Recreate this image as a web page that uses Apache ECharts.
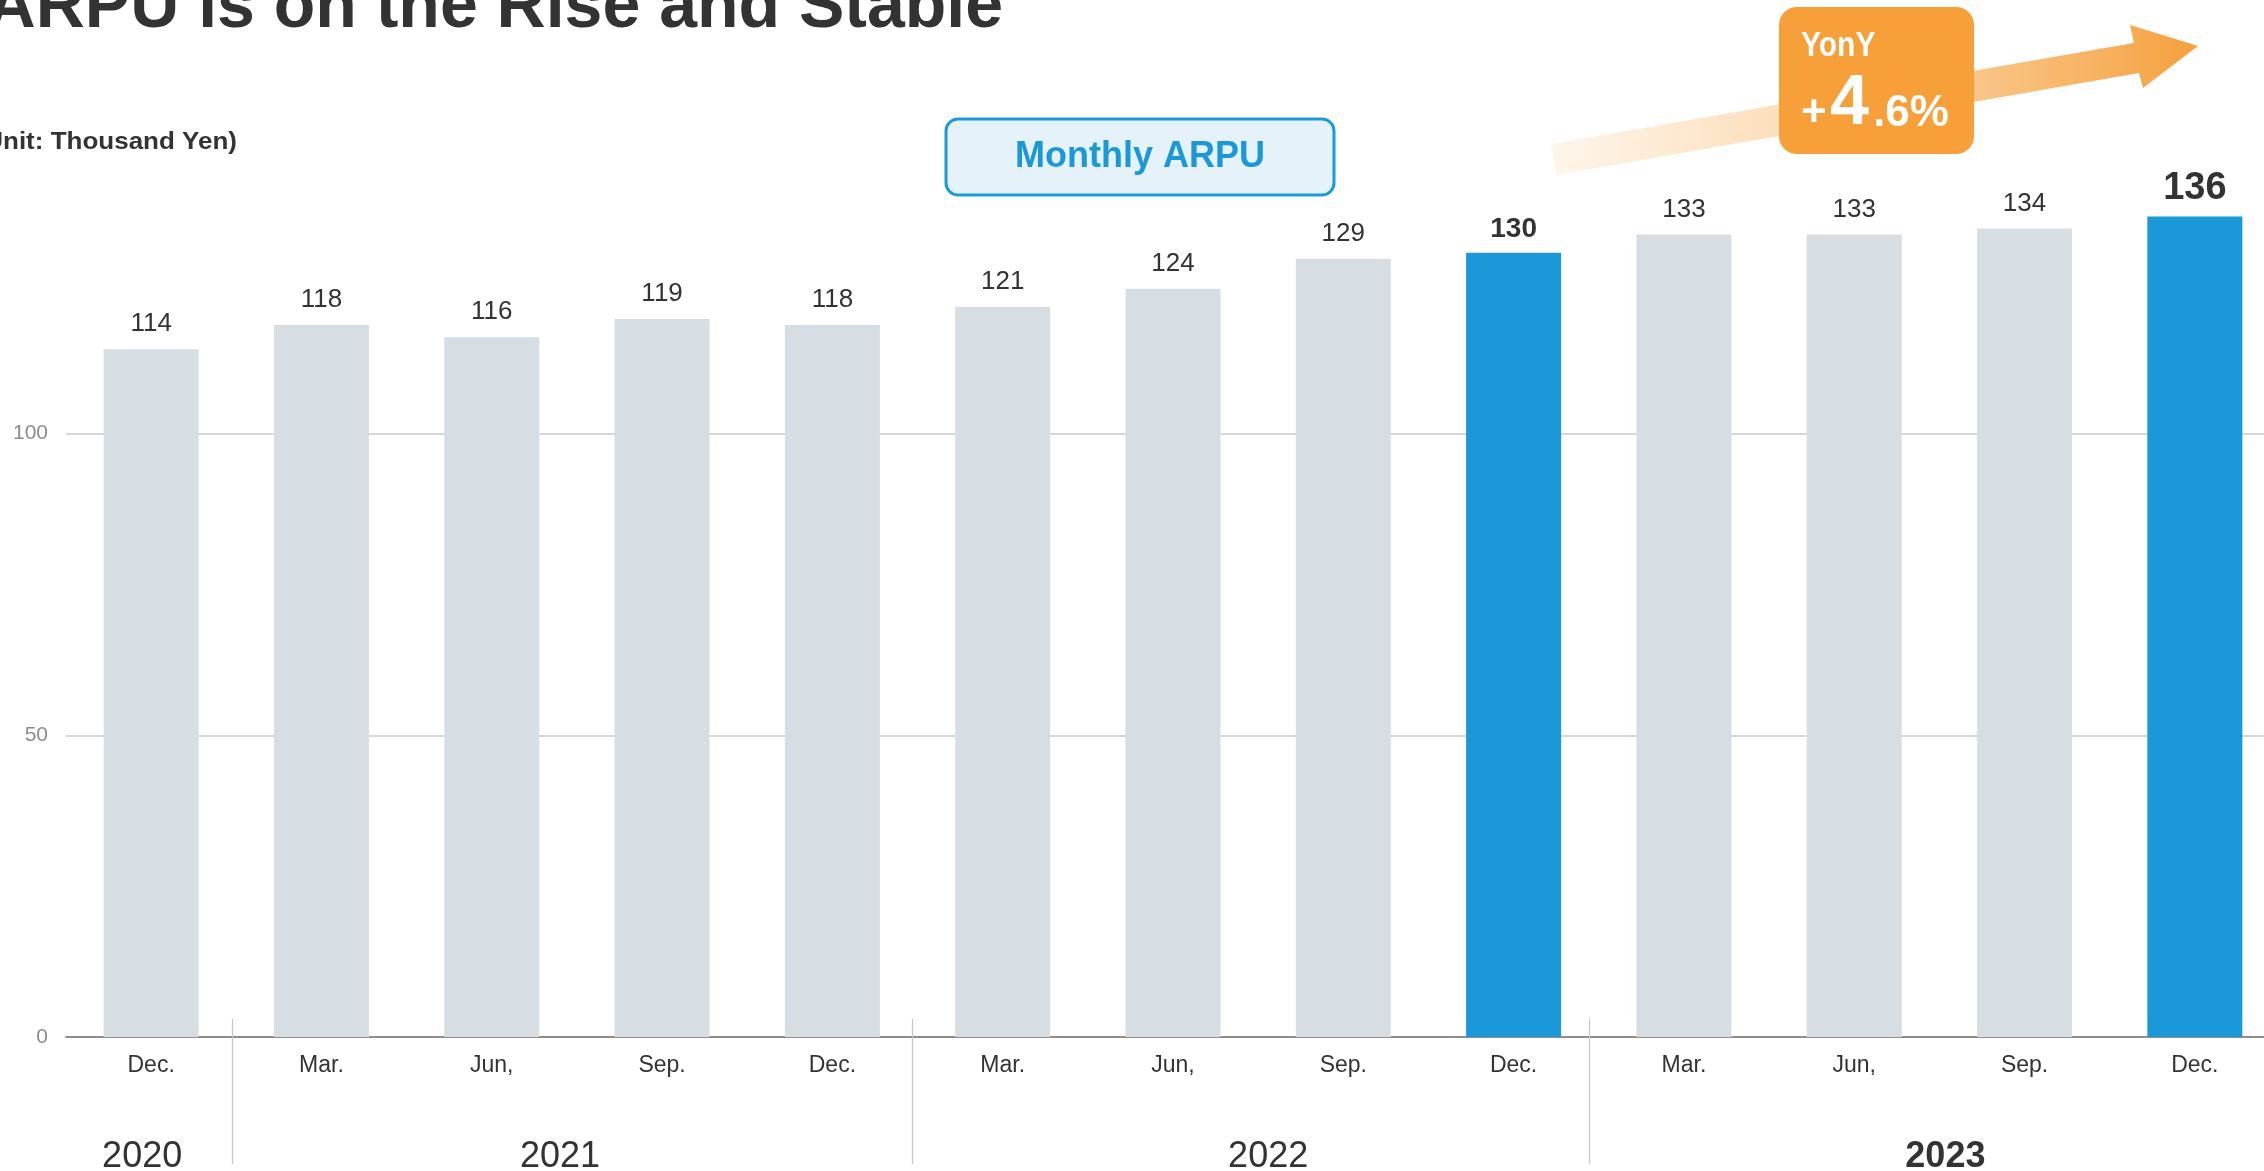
<!DOCTYPE html>
<html>
<head>
<meta charset="utf-8">
<script src="https://cdn.jsdelivr.net/npm/echarts@6/dist/echarts.min.js"></script>
<style>
html,body{margin:0;padding:0;background:#fff;}
#chart{width:2264px;height:1171px;}
</style>
</head>
<body>
<div id="chart"></div>
<script>
// ---- data ----
var months = ['Dec.','Mar.','Jun,','Sep.','Dec.','Mar.','Jun,','Sep.','Dec.','Mar.','Jun,','Sep.','Dec.'];
var arpu = [114,118,116,119,118,121,124,129,130,133,133,134,136];
var highlightIdx = [8, 12];
var years = ['2020','2021','2022','2023'];
var yearStart = [0, 1, 5, 9];
var yearEnd = [0, 4, 8, 12];
var yMin = 0, yMax = 150, yInterval = 50;
var titleText = 'ARPU is on the Rise and Stable';
var unitText = '(Unit: Thousand Yen)';
var legendText = 'Monthly ARPU';
var yoyLabel = 'YonY';
var yoyPlus = '+';
var yoyInt = '4';
var yoyFrac = '.6%';

// ---- layout tweaks (pixels) ----
var yearLabelShift = [-9, -17, 10, 6];
var sepShift = [-4, -6, -10];

var FONT = '"Liberation Sans", Arial, Helvetica, sans-serif';
var GRAY = '#d6dde3', BLUE = '#1a98d8';

var barData = arpu.map(function (v, i) {
  var hi = highlightIdx.indexOf(i) >= 0;
  var item = { value: v, itemStyle: { color: hi ? BLUE : GRAY } };
  if (hi) {
    item.label = { fontWeight: 'bold', fontSize: (i === 12 ? 38 : 28), color: '#333', distance: 9 };
  }
  return item;
});

var chart = echarts.init(document.getElementById('chart'), null, { renderer: 'canvas' });

var option = {
  backgroundColor: '#fff',
  animation: false,
  grid: { left: 66, top: 132, width: 2214, bottom: 134, containLabel: false, outerBoundsMode: 'none' },
  xAxis: {
    type: 'category',
    data: months,
    boundaryGap: true,
    axisLine: { show: true, lineStyle: { color: '#8e8e8e', width: 2 } },
    axisTick: { show: false },
    axisLabel: { color: '#333', fontSize: 23, fontFamily: FONT, margin: 17, interval: 0 },
    splitLine: { show: false }
  },
  yAxis: {
    type: 'value',
    min: yMin, max: yMax, interval: yInterval,
    axisLine: { show: false },
    axisTick: { show: false },
    axisLabel: {
      color: '#8c8c8c', fontSize: 21, fontFamily: FONT, margin: 18,
      formatter: function (v) { return v >= yMax ? '' : String(v); }
    },
    splitLine: { show: true, lineStyle: { color: ['#c9c9c9', '#c9c9c9', '#c9c9c9', 'rgba(0,0,0,0)'], width: 1.5 } }
  },
  series: [{
    type: 'bar',
    data: barData,
    barWidth: 95,
    label: {
      show: true, position: 'top', distance: 12,
      color: '#333', fontSize: 26, fontFamily: FONT
    }
  }]
};
chart.setOption(option);

function px(idx) { return chart.convertToPixel({ xAxisIndex: 0 }, idx); }
var zeroY = chart.convertToPixel({ yAxisIndex: 0 }, 0);

var graphics = [];
// title & unit
graphics.push({ type: 'text', x: 1003, y: 8, z: 10,
  style: { text: titleText, fill: '#333', font: 'bold 68px ' + FONT, textAlign: 'right', textVerticalAlign: 'middle' } });
graphics.push({ type: 'text', x: 237, y: 142, z: 10, scaleY: 0.92,
  style: { text: unitText, fill: '#333', font: 'bold 26px ' + FONT, textAlign: 'right', textVerticalAlign: 'middle' } });
// legend box
graphics.push({ type: 'rect', shape: { x: 946, y: 119, width: 388, height: 76, r: 12 }, z: 10,
  style: { fill: '#e6f2fa', stroke: '#1a9ad9', lineWidth: 3 } });
graphics.push({ type: 'text', x: 1140, y: 157, z: 11,
  style: { text: legendText, fill: '#1a98d8', font: 'bold 36px ' + FONT, textAlign: 'center', textVerticalAlign: 'middle' } });
// arrow
graphics.push({ type: 'polygon', z: 5,
  shape: { points: [[1551,144],[2134,43],[2130,25],[2198,46],[2143,88],[2139,73],[1556,175]] },
  style: { fill: new echarts.graphic.LinearGradient(0, 0, 1, 0, [
    { offset: 0, color: 'rgba(248,178,95,0.12)' },
    { offset: 0.45, color: 'rgba(248,178,95,0.5)' },
    { offset: 1, color: 'rgba(245,160,60,1)' }
  ]) } });
// YonY badge
graphics.push({ type: 'rect', shape: { x: 1779, y: 7, width: 195, height: 147, r: 18 }, z: 12,
  style: { fill: '#f7a03a' } });
graphics.push({ type: 'text', x: 1801, y: 46, z: 13, scaleY: 1.15,
  style: { text: yoyLabel, fill: '#fff', font: 'bold 30px ' + FONT, textAlign: 'left', textVerticalAlign: 'middle' } });
graphics.push({ type: 'text', x: 1801, y: 114, z: 13,
  style: { text: yoyPlus, fill: '#fff', font: 'bold 44px ' + FONT, textAlign: 'left', textVerticalAlign: 'middle' } });
graphics.push({ type: 'text', x: 1830, y: 105, z: 13,
  style: { text: yoyInt, fill: '#fff', font: 'bold 70px ' + FONT, textAlign: 'left', textVerticalAlign: 'middle' } });
graphics.push({ type: 'text', x: 1873, y: 114, z: 13,
  style: { text: yoyFrac, fill: '#fff', font: 'bold 44px ' + FONT, textAlign: 'left', textVerticalAlign: 'middle' } });

// year separators and labels
for (var k = 0; k < years.length; k++) {
  var cx = (px(yearStart[k]) + px(yearEnd[k])) / 2 + yearLabelShift[k];
  graphics.push({ type: 'text', x: cx, y: 1157, z: 10,
    style: { text: years[k], fill: '#333', font: (k === years.length - 1 ? 'bold ' : '') + '36px ' + FONT,
      textAlign: 'center', textVerticalAlign: 'middle' } });
  if (k > 0) {
    var sx = Math.round((px(yearStart[k] - 1) + px(yearStart[k])) / 2) + sepShift[k - 1] + 0.5;
    graphics.push({ type: 'line', z: 10,
      shape: { x1: sx, y1: zeroY - 18, x2: sx, y2: zeroY + 127 },
      style: { stroke: '#c6c6c6', lineWidth: 1.2 } });
  }
}
chart.setOption({ graphic: graphics });
</script>
</body>
</html>
